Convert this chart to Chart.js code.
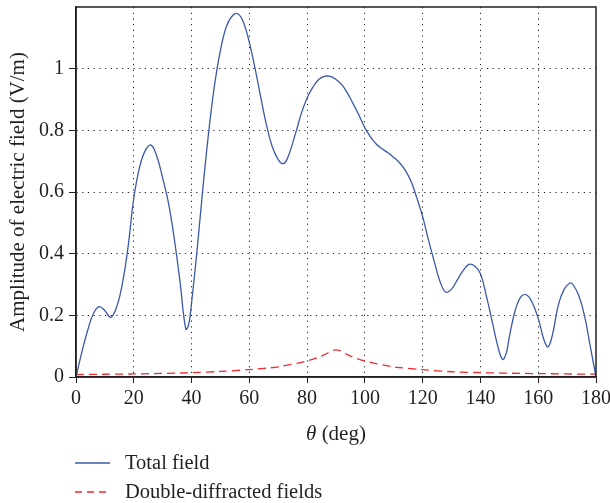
<!DOCTYPE html>
<html>
<head>
<meta charset="utf-8">
<script src="https://cdn.jsdelivr.net/npm/chart.js@4/dist/chart.umd.min.js"></script>
<style>
    html, body { margin: 0; padding: 0; background: #fff; }
    #wrap { position: relative; width: 610px; height: 503px; }
    #legend { position: absolute; left: 75px; top: 448px; font-family: "Liberation Serif", serif; font-size: 20.5px; color: #231f20; }
    #legend div { height: 29px; line-height: 29px; display: flex; align-items: center; }
    #legend svg { margin-right: 15px; }
</style>
</head>
<body>
<div id="wrap">
    <canvas id="c" width="610" height="503"></canvas>
    <div id="legend">
        <div><svg width="35" height="4"><line x1="0" y1="2" x2="35" y2="2" stroke="#3b59a8" stroke-width="1.4"/></svg>Total field</div>
        <div><svg width="35" height="4"><line x1="0" y1="2" x2="35" y2="2" stroke="#ee2a2e" stroke-width="1.4" stroke-dasharray="7,5"/></svg>Double-diffracted fields</div>
    </div>
</div>
<script>
// 角度 (deg) 與總場
const totalTheta = [0, 2, 4, 6, 8, 10, 12, 14, 16, 18, 20, 22, 24, 26, 28, 30, 32, 34, 36, 38, 39, 40, 42, 44, 46, 48, 50, 52, 54, 56, 58, 60, 62, 64, 66, 68, 70, 71.5, 73, 76, 78, 80, 82, 84, 86, 88, 90, 92, 94, 96, 98, 100, 102, 104, 106, 108, 110, 112, 114, 116, 118, 120, 122, 124, 126, 128, 130, 132, 134, 136, 138, 140, 142, 144, 146, 147.7, 149, 150, 152, 154, 156, 158, 160, 162, 163.4, 165, 167, 169, 171, 172, 174, 176, 178, 180];
const totalField = [0.0, 0.08, 0.15, 0.205, 0.228, 0.215, 0.193, 0.225, 0.30, 0.42, 0.58, 0.68, 0.735, 0.752, 0.715, 0.645, 0.565, 0.45, 0.31, 0.155, 0.17, 0.24, 0.42, 0.62, 0.80, 0.95, 1.06, 1.135, 1.17, 1.178, 1.15, 1.085, 1.0, 0.905, 0.815, 0.745, 0.705, 0.692, 0.705, 0.79, 0.855, 0.905, 0.94, 0.965, 0.975, 0.975, 0.965, 0.948, 0.92, 0.885, 0.848, 0.808, 0.778, 0.755, 0.74, 0.727, 0.712, 0.695, 0.67, 0.634, 0.58, 0.52, 0.445, 0.375, 0.31, 0.275, 0.285, 0.315, 0.345, 0.365, 0.36, 0.335, 0.265, 0.183, 0.10, 0.057, 0.08, 0.13, 0.215, 0.26, 0.266, 0.24, 0.19, 0.12, 0.098, 0.14, 0.235, 0.285, 0.305, 0.30, 0.265, 0.20, 0.10, 0.0];

// 雙重繞射場
const diffTheta = [0, 20, 40, 50, 60, 70, 80, 85, 90, 95, 100, 110, 120, 130, 140, 160, 180];
const diffField = [0.008, 0.01, 0.014, 0.018, 0.024, 0.033, 0.052, 0.068, 0.088, 0.068, 0.052, 0.033, 0.024, 0.017, 0.014, 0.011, 0.009];

const xTicks = [0, 20, 40, 60, 80, 100, 120, 140, 160, 180];
const yTicks = [0, 0.2, 0.4, 0.6, 0.8, 1, 1.2];

const FONT = '"Liberation Serif", serif';
const TXT = "#231f20";

// 外框與軸標題
const framePlugin = {
    id: "frame",
    afterDraw(chart) {
        const { ctx, chartArea: a } = chart;
        ctx.save();
        ctx.strokeStyle = "#231f20";
        ctx.lineWidth = 1.5;
        ctx.strokeRect(a.left, a.top, a.right - a.left, a.bottom - a.top);

        ctx.fillStyle = TXT;
        ctx.textBaseline = "middle";
        // x 軸標題
        const p1 = "θ", p2 = " (deg)";
        ctx.font = "italic 21px " + FONT;
        const w1 = ctx.measureText(p1).width;
        ctx.font = "21px " + FONT;
        const w2 = ctx.measureText(p2).width;
        let x = (a.left + a.right) / 2 - (w1 + w2) / 2;
        ctx.font = "italic 21px " + FONT;
        ctx.fillText(p1, x, 434);
        ctx.font = "21px " + FONT;
        ctx.fillText(p2, x + w1, 434);

        // y 軸標題
        ctx.translate(18, (a.top + a.bottom) / 2);
        ctx.rotate(-Math.PI / 2);
        ctx.textAlign = "center";
        ctx.fillText("Amplitude of electric field (V/m)", 0, 0);
        ctx.restore();
    }
};

const hideEdge = (lo, hi, col) => (c) => (c.tick && (c.tick.value === lo || c.tick.value === hi)) ? "rgba(0,0,0,0)" : col;

new Chart(document.getElementById("c"), {
    type: "line",
    data: {
        datasets: [
            {
                label: "Total field",
                data: totalTheta.map((t, i) => ({ x: t, y: totalField[i] })),
                borderColor: "#3b59a8",
                borderWidth: 1.3,
                pointRadius: 0,
                tension: 0.4,
                fill: false,
            },
            {
                label: "Double-diffracted fields",
                data: diffTheta.map((t, i) => ({ x: t, y: diffField[i] })),
                borderColor: "#ee2a2e",
                borderWidth: 1.3,
                borderDash: [8, 5],
                pointRadius: 0,
                tension: 0.3,
                fill: false,
            },
        ],
    },
    options: {
        responsive: false,
        animation: false,
        layout: { padding: { top: 7, right: 14, left: 0, bottom: 0 } },
        plugins: {
            legend: { display: false },
            tooltip: { enabled: false },
        },
        scales: {
            x: {
                type: "linear",
                min: 0,
                max: 180,
                afterBuildTicks: (s) => { s.ticks = xTicks.map(v => ({ value: v })); },
                afterFit: (s) => { s.height = 126; s.paddingLeft = 0; s.paddingRight = 0; },
                ticks: {
                    font: { family: FONT, size: 20 },
                    color: TXT,
                    padding: 4,
                    maxRotation: 0,
                },
                grid: {
                    color: hideEdge(0, 180, "#231f20"),
                    lineWidth: 1,
                    tickLength: 6,
                    tickColor: "#231f20",
                },
                border: { display: true, color: "#231f20", width: 1.5, dash: [1.2, 4.5] },
            },
            y: {
                min: 0,
                max: 1.2,
                afterBuildTicks: (s) => { s.ticks = yTicks.map(v => ({ value: v })); },
                afterFit: (s) => { s.width = 76; s.paddingTop = 0; s.paddingBottom = 0; },
                ticks: {
                    font: { family: FONT, size: 20 },
                    color: TXT,
                    padding: 5,
                    callback: (v) => (v === 1.2 ? "" : String(v)),
                },
                grid: {
                    color: hideEdge(0, 1.2, "#231f20"),
                    lineWidth: 1,
                    tickLength: 7,
                    tickColor: (c) => (c.tick && c.tick.value === 1.2) ? "rgba(0,0,0,0)" : "#231f20",
                },
                border: { display: true, color: "#231f20", width: 1.5, dash: [1.2, 4.5] },
            },
        },
    },
    plugins: [framePlugin],
});
</script>
</body>
</html>
